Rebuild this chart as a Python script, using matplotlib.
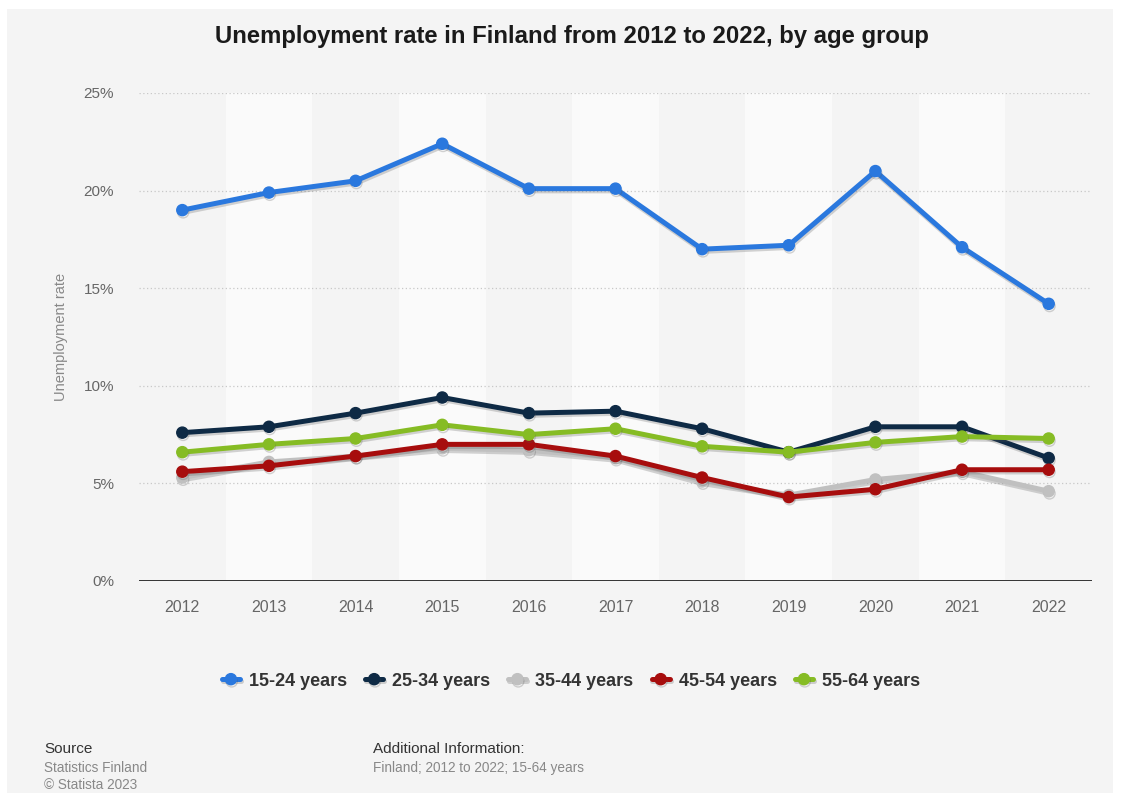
import matplotlib.pyplot as plt
import matplotlib.patheffects as pe
from matplotlib.patches import Rectangle

years = ["2012", "2013", "2014", "2015", "2016", "2017", "2018", "2019", "2020", "2021", "2022"]

age_15_24 = [19.0, 19.9, 20.5, 22.4, 20.1, 20.1, 17.0, 17.2, 21.0, 17.1, 14.2]
age_25_34 = [7.6, 7.9, 8.6, 9.4, 8.6, 8.7, 7.8, 6.6, 7.9, 7.9, 6.3]
age_35_44 = [5.3, 6.1, 6.4, 6.8, 6.7, 6.3, 5.1, 4.4, 5.2, 5.6, 4.6]
age_45_54 = [5.6, 5.9, 6.4, 7.0, 7.0, 6.4, 5.3, 4.3, 4.7, 5.7, 5.7]
age_55_64 = [6.6, 7.0, 7.3, 8.0, 7.5, 7.8, 6.9, 6.6, 7.1, 7.4, 7.3]

series = [
    ("15-24 years", age_15_24, "#2a78de"),
    ("25-34 years", age_25_34, "#0e2a45"),
    ("35-44 years", age_35_44, "#c0c0c0"),
    ("45-54 years", age_45_54, "#a70d0d"),
    ("55-64 years", age_55_64, "#86bc24"),
]

plt.rcParams["font.family"] = ["Liberation Sans", "DejaVu Sans"]

fig = plt.figure(figsize=(11.26, 7.93), dpi=100, facecolor="white")
# grey card behind everything
fig.patches.append(Rectangle((7 / 1126, 0), 1106 / 1126, 1 - 9 / 793,
                             transform=fig.transFigure, facecolor="#f4f4f4",
                             edgecolor="none", zorder=-10))

ax = fig.add_axes([139 / 1126, 1 - 581 / 793, (1092 - 139) / 1126, (581 - 93) / 793])
ax.set_facecolor("none")

x = list(range(len(years)))
# alternating column bands
for i in x:
    if i % 2 == 1:
        ax.axvspan(i - 0.5, i + 0.5, color="#fafafa", zorder=0, lw=0)

for label, vals, color in series:
    ax.plot(x, vals, color=color, lw=3.6, marker="o", ms=8, label=label,
            solid_capstyle="round", zorder=3,
            path_effects=[pe.SimpleLineShadow(offset=(0.6, -1.6), shadow_color="#555555", alpha=0.25),
                          pe.Normal()])

ax.set_xlim(-0.5, len(years) - 0.5)
ax.set_ylim(0, 25)
ax.set_yticks([0, 5, 10, 15, 20, 25])
ax.set_yticklabels([f"{v}%" for v in [0, 5, 10, 15, 20, 25]])
ax.set_xticks(x)
ax.set_xticklabels(years)
ax.tick_params(axis="both", length=0, colors="#666666", labelsize=11.5)
ax.tick_params(axis="y", labelsize=11, pad=18)
ax.tick_params(axis="x", pad=14)

for v in [5, 10, 15, 20, 25]:
    ax.axhline(v, color="#c8c8c8", lw=0.9, ls=(0, (1, 2)), zorder=1)
ax.axhline(0, color="#333333", lw=1.4, zorder=4)
for s in ax.spines.values():
    s.set_visible(False)

ax.set_ylabel("Unemployment rate", color="#888888", fontsize=10.5)
ax.yaxis.set_label_coords(-0.075, 0.5)

fig.text(572 / 1126, 1 - 36 / 793, "Unemployment rate in Finland from 2012 to 2022, by age group",
         ha="center", va="center", fontsize=17.2, fontweight="bold", color="#1a1a1a")

leg = fig.legend(loc="center", bbox_to_anchor=(571 / 1126, 1 - 681 / 793), ncol=5,
                 frameon=False, handlelength=1.0, handletextpad=0.5, columnspacing=1.0,
                 prop={"weight": "bold", "size": 13})
for t in leg.get_texts():
    t.set_color("#333333")

fig.text(44 / 1126, 1 - 749 / 793, "Source", fontsize=11, color="#333333", va="center")
fig.text(44 / 1126, 1 - 768 / 793, "Statistics Finland", fontsize=9.8, color="#888888", va="center")
fig.text(44 / 1126, 1 - 785 / 793, "\u00a9 Statista 2023", fontsize=9.8, color="#888888", va="center")
fig.text(373 / 1126, 1 - 749 / 793, "Additional Information:", fontsize=11, color="#333333", va="center")
fig.text(373 / 1126, 1 - 768 / 793, "Finland; 2012 to 2022; 15-64 years", fontsize=9.8, color="#888888", va="center")

fig.savefig("out.png", dpi=100, facecolor=fig.get_facecolor())
